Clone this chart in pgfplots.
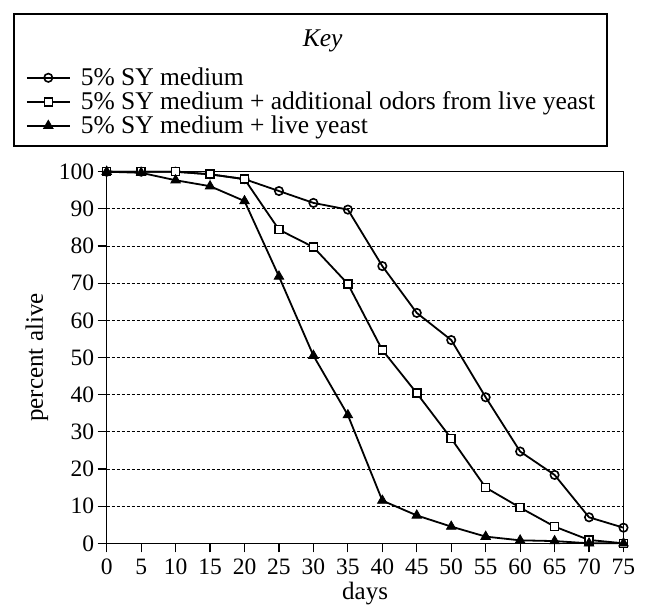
\documentclass[border=0pt]{standalone}
\usepackage{fontspec}
\setmainfont{Liberation Serif}
\usepackage{pgfplots}
\pgfplotsset{compat=1.18}
\newcommand{\lstrut}{\rule[-6pt]{0pt}{24pt}}
\begin{document}
\begin{tikzpicture}
\path[use as bounding box] (-106.7pt,-69.7pt) rectangle (543.3pt,543.3pt);
\begin{axis}[
  at={(0pt,0pt)}, anchor=south west,
  scale only axis, width=516.8pt, height=371.6pt,
  xmin=0, xmax=75, ymin=0, ymax=100,
  xtick={0,5,...,75}, ytick={0,10,...,100},
  tick pos=left, tick align=outside, major tick length=9pt,
  every tick/.style={black, line width=1.2pt},
  axis line style={line width=1.5pt},
  ymajorgrids,
  grid style={black, line width=0.9pt, dash pattern=on 3pt off 2pt},
  /pgf/number format/assume math mode=true,
  ticklabel style={font=\fontsize{23.5}{23.5}\selectfont},
  xticklabel style={yshift=-3pt},
  xlabel={days}, ylabel={percent alive},
  every axis x label/.style={at={(axis description cs:0.5,-0.1364)}, anchor=center, font=\fontsize{25}{25}\selectfont},
  every axis y label/.style={at={(axis description cs:-0.1349,0.5)}, anchor=center, rotate=90, font=\fontsize{25}{25}\selectfont},
  clip=false,
  legend cell align=left,
  legend style={at={(-0.1813,1.4271)}, anchor=north west, draw=black, line width=1.6pt,
    inner xsep=12pt, inner ysep=6pt, column sep=10pt, row sep=0pt,
    nodes={inner sep=0pt, text depth=, text height=}, font=\fontsize{25.5}{25.5}\selectfont},
  legend image code/.code={\draw[mark repeat=2,mark phase=2,#1,line width=2pt] plot coordinates {(0pt,2pt) (21.5pt,2pt) (43pt,2pt)};},
]
\addlegendimage{empty legend}
\addlegendentry{\hspace*{222pt}\textit{Key}\rule[-21pt]{0pt}{48pt}}

\addplot[black, line width=1.8pt, mark=o, mark size=4.2pt, mark options={solid, fill=white, line width=1.6pt}]
coordinates {(0,100) (5,100) (10,100) (15,99.3) (20,98) (25,94.8) (30,91.6) (35,89.8) (40,74.6) (45,62) (50,54.7) (55,39.3) (60,24.7) (65,18.4) (70,7) (75,4.2)};
\addlegendentry{5\% SY medium\lstrut}

\addplot[black, line width=1.8pt, mark=square*, mark size=4pt, mark options={solid, fill=white, line width=1.6pt}]
coordinates {(0,100) (5,100) (10,100) (15,99.3) (20,98) (25,84.4) (30,79.7) (35,69.8) (40,52) (45,40.4) (50,28.2) (55,15) (60,9.6) (65,4.5) (70,0.9) (75,0)};
\addlegendentry{5\% SY medium + additional odors from live yeast\lstrut}

\addplot[black, line width=1.8pt, mark=triangle*, mark size=5.5pt, mark options={solid, fill=black, line width=0.8pt}]
coordinates {(0,100) (5,99.7) (10,97.7) (15,96.1) (20,92.1) (25,71.8) (30,50.5) (35,34.5) (40,11.5) (45,7.5) (50,4.5) (55,1.8) (60,0.8) (65,0.6) (70,0) (75,0)};
\addlegendentry{5\% SY medium + live yeast\lstrut}
\end{axis}
\end{tikzpicture}
\end{document}
